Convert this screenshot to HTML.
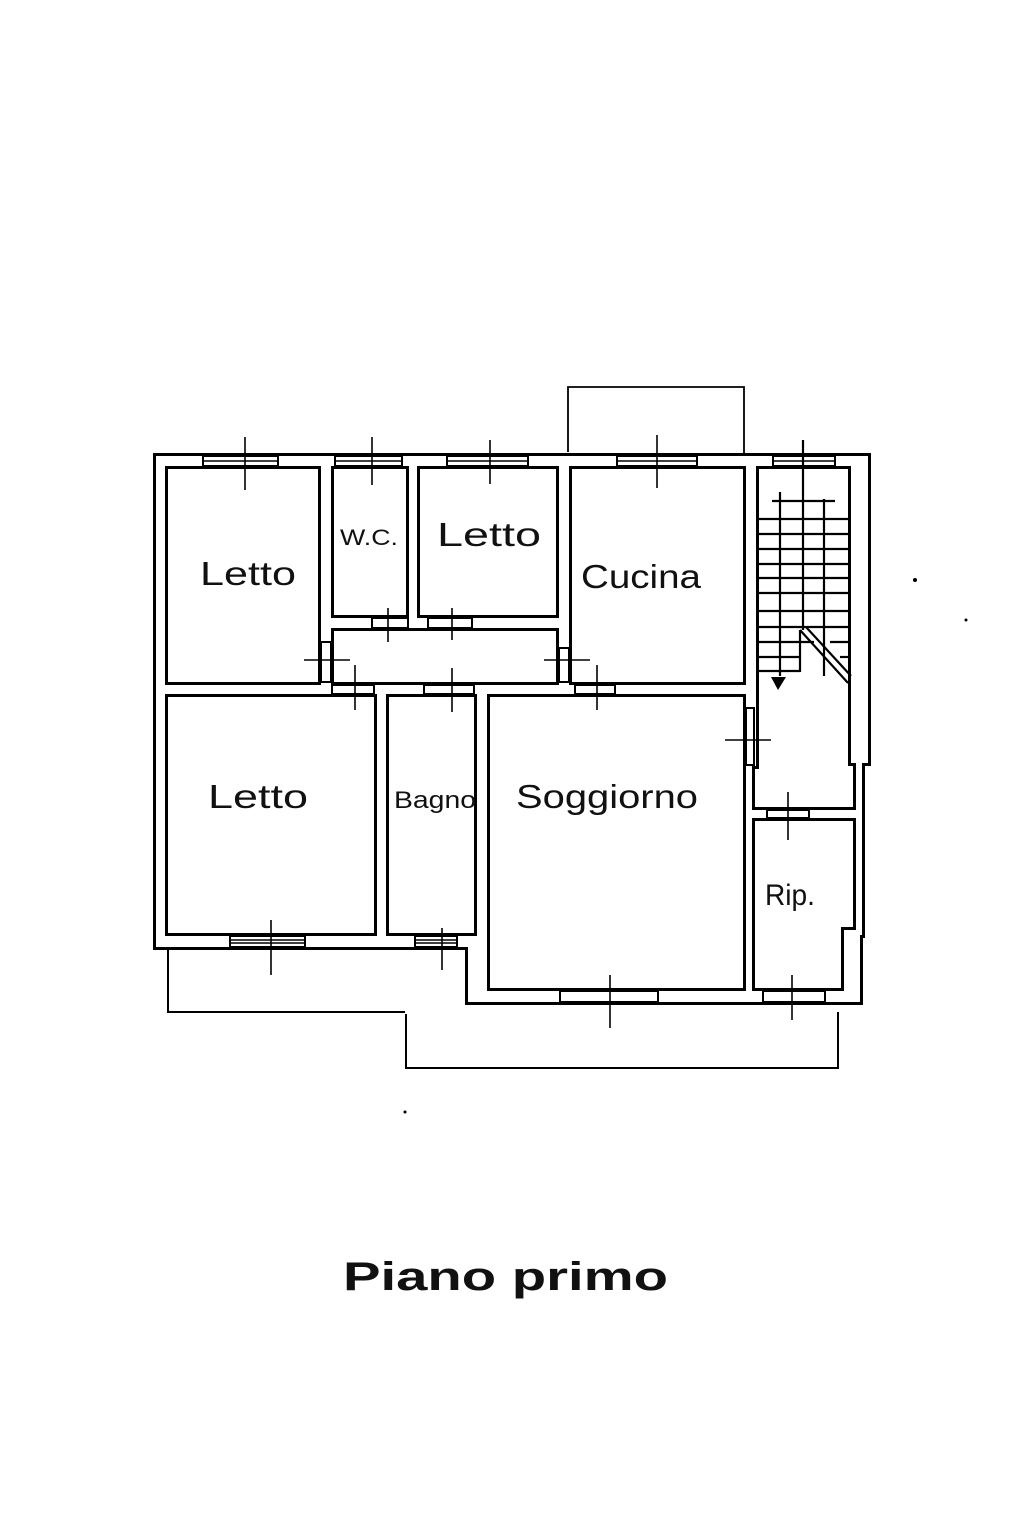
<!DOCTYPE html>
<html><head><meta charset="utf-8"><style>
html,body{margin:0;padding:0;background:#fff;}
svg{display:block;}
text{font-family:"Liberation Sans",sans-serif;fill:#111;}
</style></head><body>
<svg width="1023" height="1535" viewBox="0 0 1023 1535" xmlns="http://www.w3.org/2000/svg">
<defs>
<g id="walls">
  <rect x="156" y="456" width="712" height="10"/>
  <rect x="156" y="456" width="9" height="489"/>
  <rect x="851" y="456" width="17" height="307"/>
  <rect x="856" y="760" width="6" height="175"/>
  <rect x="844" y="930" width="16" height="72"/>
  <rect x="156" y="936" width="312" height="11"/>
  <rect x="468" y="936" width="9" height="66"/>
  <rect x="468" y="991" width="392" height="11"/>
  <rect x="321" y="466" width="10" height="222"/>
  <rect x="409" y="466" width="8" height="156"/>
  <rect x="559" y="466" width="10" height="224"/>
  <rect x="321" y="618" width="248" height="10"/>
  <rect x="156" y="685" width="600" height="9"/>
  <rect x="377" y="685" width="9" height="256"/>
  <rect x="477" y="685" width="10" height="312"/>
  <rect x="746" y="466" width="10" height="300"/>
  <rect x="746" y="760" width="6" height="236"/>
  <rect x="751" y="810" width="106" height="8"/>
</g>
</defs>
<use href="#walls" fill="#000" stroke="#000" stroke-width="6"/>
<use href="#walls" fill="#fff" stroke="none"/>

<g fill="#fff" stroke="#000" stroke-width="2">
  <!-- top windows -->
  <rect x="203" y="456" width="75" height="10"/>
  <rect x="335" y="456" width="67" height="10"/>
  <rect x="447" y="456" width="81" height="10"/>
  <rect x="617" y="456" width="80" height="10"/>
  <rect x="773" y="456" width="62" height="10"/>
  <!-- bottom windows -->
  <rect x="230" y="936" width="75" height="11"/>
  <rect x="415" y="936" width="42" height="11"/>
  <rect x="560" y="991" width="98" height="11"/>
  <rect x="763" y="991" width="62" height="11"/>
  <!-- doors -->
  <rect x="321" y="642" width="10" height="40"/>
  <rect x="372" y="618" width="36" height="10"/>
  <rect x="428" y="618" width="44" height="10"/>
  <rect x="559" y="648" width="10" height="34"/>
  <rect x="332" y="685" width="42" height="9"/>
  <rect x="424" y="685" width="50" height="9"/>
  <rect x="575" y="685" width="40" height="9"/>
  <rect x="746" y="708" width="8" height="57"/>
  <rect x="767" y="810" width="42" height="8"/>
</g>
<g stroke="#000" stroke-width="1.6" fill="none">
  <line x1="203" y1="461" x2="278" y2="461"/>
  <line x1="335" y1="461" x2="402" y2="461"/>
  <line x1="447" y1="461" x2="528" y2="461"/>
  <line x1="617" y1="461" x2="697" y2="461"/>
  <line x1="773" y1="461" x2="835" y2="461"/>
  <line x1="230" y1="940" x2="305" y2="940"/><line x1="230" y1="943" x2="305" y2="943"/>
  <line x1="415" y1="940" x2="457" y2="940"/><line x1="415" y1="943" x2="457" y2="943"/>
  <!-- window ticks -->
  <line x1="245" y1="437" x2="245" y2="490"/>
  <line x1="372" y1="437" x2="372" y2="485"/>
  <line x1="490" y1="440" x2="490" y2="484"/>
  <line x1="657" y1="435" x2="657" y2="488"/>
  <line x1="271" y1="920" x2="271" y2="975"/>
  <line x1="442" y1="928" x2="442" y2="970"/>
  <line x1="610" y1="975" x2="610" y2="1028"/>
  <line x1="792" y1="975" x2="792" y2="1020"/>
  <!-- door ticks -->
  <line x1="304" y1="660" x2="350" y2="660"/>
  <line x1="388" y1="608" x2="388" y2="642"/>
  <line x1="452" y1="608" x2="452" y2="640"/>
  <line x1="544" y1="660" x2="590" y2="660"/>
  <line x1="355" y1="665" x2="355" y2="710"/>
  <line x1="452" y1="668" x2="452" y2="712"/>
  <line x1="597" y1="665" x2="597" y2="710"/>
  <line x1="725" y1="740" x2="771" y2="740"/>
  <line x1="788" y1="792" x2="788" y2="840"/>
  <!-- balconies -->
  <polyline points="568,452 568,387 744,387 744,455" stroke-width="1.8"/>
  <polyline points="168,950 168,1012 405,1012" stroke-width="2"/>
  <polyline points="406,1014 406,1068 838,1068 838,1012" stroke-width="2"/>
</g>
<!-- stairs -->
<g stroke="#000" stroke-width="2.2" fill="none">
  <line x1="772" y1="501" x2="835" y2="501"/>
  <line x1="757" y1="519" x2="850" y2="519"/>
  <line x1="757" y1="534" x2="850" y2="534"/>
  <line x1="757" y1="549" x2="850" y2="549"/>
  <line x1="757" y1="564" x2="848" y2="564"/>
  <line x1="757" y1="578" x2="850" y2="578"/>
  <line x1="757" y1="593" x2="850" y2="593"/>
  <line x1="757" y1="611" x2="850" y2="611"/>
  <line x1="757" y1="627" x2="848" y2="627"/>
  <line x1="757" y1="642" x2="814" y2="642"/><line x1="830" y1="642" x2="850" y2="642"/>
  <line x1="757" y1="657" x2="800" y2="657"/><line x1="840" y1="657" x2="850" y2="657"/>
  <line x1="757" y1="671" x2="800" y2="671"/>
  <line x1="780" y1="492" x2="780" y2="676"/>
  <line x1="803" y1="440" x2="803" y2="630"/>
  <line x1="800" y1="630" x2="800" y2="672"/>
  <line x1="824" y1="499" x2="824" y2="676"/>
  <line x1="800" y1="630" x2="848" y2="683"/>
  <line x1="806" y1="627" x2="851" y2="676"/>
</g>
<path d="M771,677 L786,677 L778,690 Z" fill="#000"/>

<g font-size="33">
  <text x="200" y="585" textLength="96" lengthAdjust="spacingAndGlyphs">Letto</text>
  <text x="437" y="546" textLength="104" lengthAdjust="spacingAndGlyphs">Letto</text>
  <text x="581" y="588" textLength="120" lengthAdjust="spacingAndGlyphs">Cucina</text>
  <text x="208" y="808" textLength="100" lengthAdjust="spacingAndGlyphs">Letto</text>
  <text x="516" y="808" textLength="182" lengthAdjust="spacingAndGlyphs">Soggiorno</text>
</g>
<text x="340" y="545" font-size="22" textLength="58" lengthAdjust="spacingAndGlyphs">W.C.</text>
<text x="394" y="808" font-size="24" textLength="82" lengthAdjust="spacingAndGlyphs">Bagno</text>
<text x="765" y="905" font-size="30" textLength="50" lengthAdjust="spacingAndGlyphs">Rip.</text>
<text x="343" y="1290" font-size="40" font-weight="bold" textLength="325" lengthAdjust="spacingAndGlyphs">Piano  primo</text>
<circle cx="915" cy="580" r="2" fill="#000"/>
<circle cx="966" cy="620" r="1.5" fill="#000"/>
<circle cx="405" cy="1112" r="1.5" fill="#000"/>
</svg>
</body></html>
